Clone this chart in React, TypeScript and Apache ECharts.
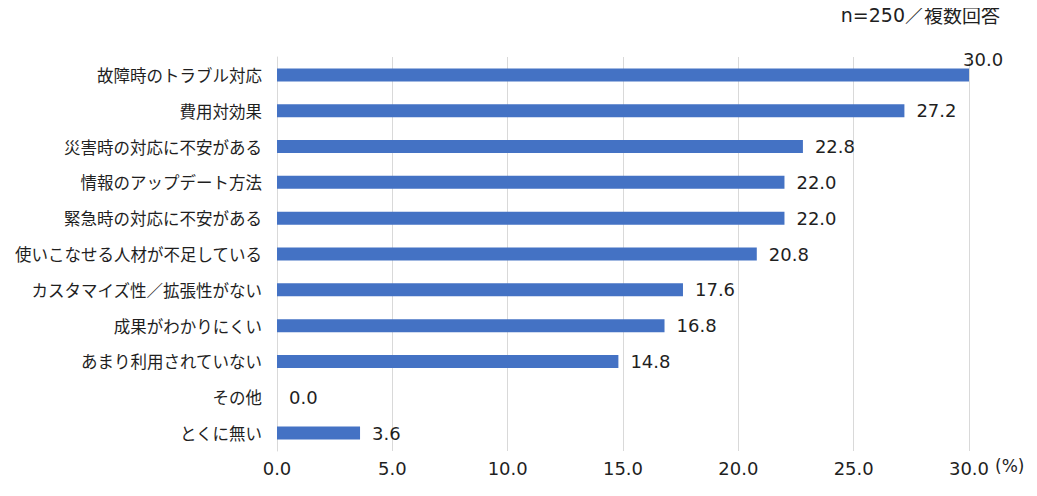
import React, { useEffect, useRef } from "react";
import * as echarts from "echarts";

const categories = [
  "故障時のトラブル対応",
  "費用対効果",
  "災害時の対応に不安がある",
  "情報のアップデート方法",
  "緊急時の対応に不安がある",
  "使いこなせる人材が不足している",
  "カスタマイズ性／拡張性がない",
  "成果がわかりにくい",
  "あまり利用されていない",
  "その他",
  "とくに無い",
];
const values = [30.0, 27.2, 22.8, 22.0, 22.0, 20.8, 17.6, 16.8, 14.8, 0.0, 3.6];
const xTicks = [0, 5, 10, 15, 20, 25, 30];

const FONT = "'Noto Sans CJK JP', 'Noto Sans', sans-serif";
const NUMFONT = "'DejaVu Sans', 'Noto Sans CJK JP', sans-serif";
const TEXT = "#1f1f1f";

export default function App() {
  const ref = useRef<HTMLDivElement>(null);
  useEffect(() => {
    if (!ref.current) return;
    const chart = echarts.init(ref.current, undefined, { renderer: "svg" });
    const data = values.map((v, i) =>
      i === 0
        ? { value: v, label: { offset: [-18, -15] } }
        : { value: v }
    );
    chart.setOption({
      animation: false,
      textStyle: { fontFamily: FONT },
      grid: { left: 277, right: 68, top: 57, bottom: 45, containLabel: false },
      graphic: [
        {
          type: "text",
          right: 37,
          top: 5,
          style: {
            text: "{a|n=250}{b|／複数回答}",
            fill: TEXT,
            rich: {
              a: { fontSize: 19, fontFamily: NUMFONT, fill: TEXT },
              b: { fontSize: 19, fontFamily: FONT, fill: TEXT },
            },
          },
        },
        {
          type: "text",
          left: 995,
          top: 457,
          style: { text: "(%)", fontSize: 17, fill: TEXT, fontFamily: NUMFONT },
        },
      ],
      xAxis: {
        type: "value",
        min: xTicks[0],
        max: xTicks[xTicks.length - 1],
        interval: 5,
        axisLine: { show: false },
        axisTick: { show: false },
        splitLine: { show: true, lineStyle: { color: "#d9d9d9", width: 1 } },
        axisLabel: {
          color: TEXT,
          fontSize: 18,
          margin: 8,
          fontFamily: NUMFONT,
          formatter: (v: number) => v.toFixed(1),
        },
      },
      yAxis: {
        type: "category",
        data: categories,
        inverse: true,
        axisLine: { show: true, lineStyle: { color: "#d9d9d9" } },
        axisTick: { show: false },
        axisLabel: { color: TEXT, fontSize: 16.5, margin: 15, fontFamily: FONT },
      },
      series: [
        {
          type: "bar",
          data,
          barWidth: 13,
          itemStyle: { color: "#4472C4" },
          label: {
            show: true,
            position: "right",
            distance: 12,
            color: TEXT,
            fontSize: 18,
            fontFamily: NUMFONT,
            formatter: (p: any) => Number(p.value).toFixed(1),
          },
        },
      ],
    });
    return () => chart.dispose();
  }, []);
  return <div ref={ref} style={{ width: 1037, height: 496, margin: -8 }} />;
}
